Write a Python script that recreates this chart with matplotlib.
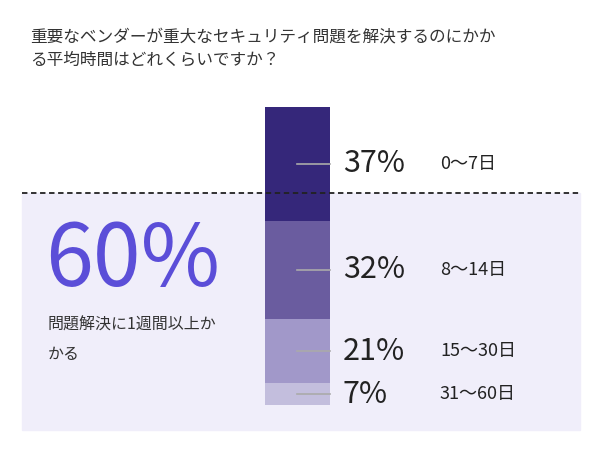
import matplotlib
matplotlib.use("Agg")
import matplotlib.pyplot as plt
from matplotlib.patches import Rectangle

plt.rcParams['font.family'] = ['Noto Sans CJK JP', 'DejaVu Sans']

title = "重要なベンダーが重大なセキュリティ問題を解決するのにかか\nる平均時間はどれくらいですか？"
pct_values = [37, 32, 21, 7]
day_labels = ["0〜7日", "8〜14日", "15〜30日", "31〜60日"]
colors = ["#35277a", "#6a5c9f", "#a198c9", "#c3bedd"]
headline = "60%"
sub = "問題解決に1週間以上か\nかる"

fig = plt.figure(figsize=(6, 4.53), dpi=100)
ax = fig.add_axes([0, 0, 1, 1])
ax.set_xlim(0, 600); ax.set_ylim(453, 0); ax.axis('off')

ax.add_patch(Rectangle((22, 193), 558, 237, color="#f0eefa", zorder=0))
ax.plot([22, 580], [193, 193], ls=(0, (3, 2)), color="#222222", lw=1.3, zorder=3)

ax.text(30, 28, title, fontsize=12, va='top', ha='left', color="#333333", linespacing=1.55)

scale = 298 / sum(pct_values)
bottom = 107
for v, c, d in zip(pct_values, colors, day_labels):
    h = v * scale
    ax.bar(297, h, width=65, bottom=bottom, color=c, zorder=2)
    mid = bottom + h / 2
    ax.plot([297, 330], [mid, mid], color="#aaaaaa", lw=1.2, zorder=4)
    ax.text(343, mid, f"{v}%", fontsize=22, va='center', ha='left', color="#222222")
    ax.text(440, mid, d, fontsize=13, va='center', ha='left', color="#222222")
    bottom += h

ax.text(45, 262, headline, fontsize=62, va='center', ha='left', color="#5b4ed8")
ax.text(48, 340, sub, fontsize=11.5, va='center', ha='left', color="#333333", linespacing=2.0)

fig.savefig("out.png", dpi=100)
